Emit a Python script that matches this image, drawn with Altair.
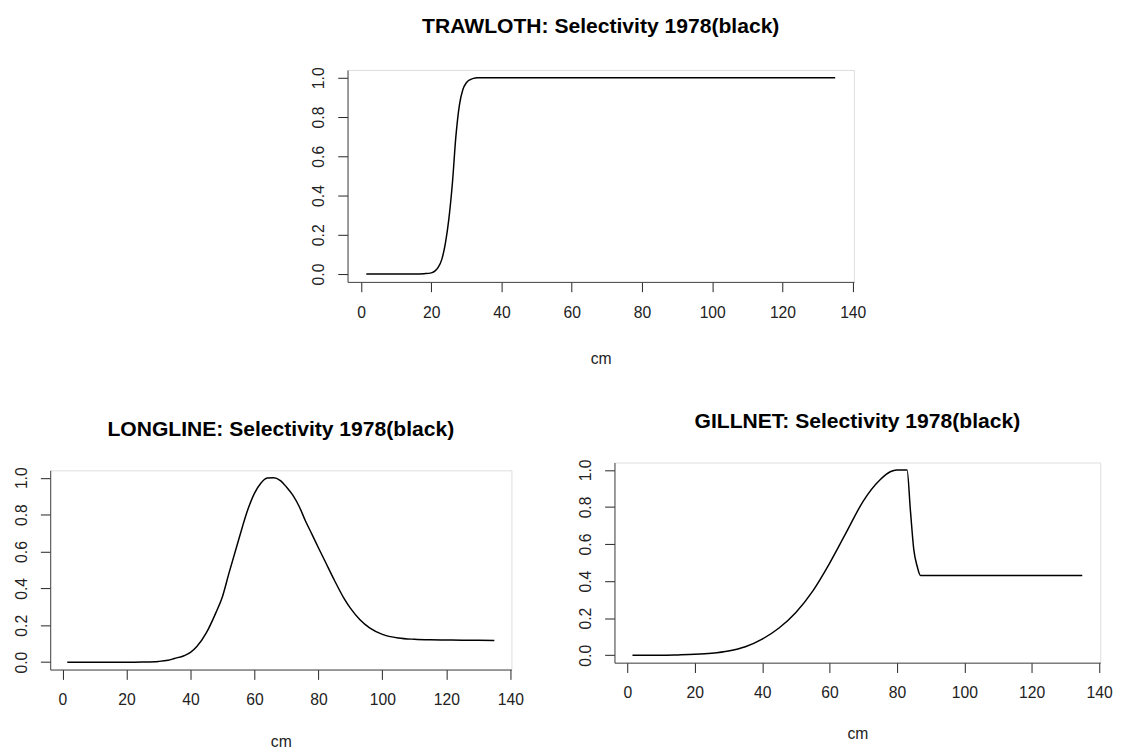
import altair as alt
import pandas as pd

# ---- data ----
trawl_cm = [1.5, 5, 10, 15, 18, 20, 21, 22, 23, 24, 25, 26, 27, 28, 29, 30, 31, 32, 33, 35, 40, 60, 80, 100, 120, 135]
trawl_sel = [0, 0, 0, 0, 0.002, 0.006, 0.015, 0.035, 0.075, 0.155, 0.28, 0.46, 0.70, 0.86, 0.94, 0.975, 0.99, 0.997, 1.0, 1.0, 1.0, 1.0, 1.0, 1.0, 1.0, 1.0]

long_cm = [1.5, 10, 20, 25, 30, 33, 35, 38, 40, 42, 45, 48, 50, 52, 55, 58, 60, 62, 64, 66, 68, 70, 72, 74, 76, 78, 80, 82, 85, 88, 90, 93, 96, 100, 105, 110, 115, 120, 125, 130, 135]
long_sel = [0, 0, 0, 0.001, 0.004, 0.01, 0.02, 0.035, 0.053, 0.085, 0.16, 0.27, 0.355, 0.48, 0.66, 0.83, 0.915, 0.97, 0.998, 1.0, 0.986, 0.95, 0.906, 0.844, 0.764, 0.693, 0.62, 0.55, 0.444, 0.346, 0.293, 0.23, 0.186, 0.151, 0.131, 0.124, 0.121, 0.12, 0.119, 0.119, 0.118]

gill_cm = [1.5, 10, 15, 20, 25, 30, 35, 40, 45, 50, 55, 60, 65, 70, 75, 78, 80, 83, 84, 85, 86, 87, 90, 100, 110, 120, 135]
gill_sel = [0, 0, 0.002, 0.005, 0.011, 0.023, 0.046, 0.087, 0.147, 0.231, 0.346, 0.496, 0.664, 0.832, 0.947, 0.99, 1.0, 1.0, 0.78, 0.57, 0.48, 0.43, 0.43, 0.43, 0.43, 0.43, 0.43]

x_ticks = [0, 20, 40, 60, 80, 100, 120, 140]
y_ticks = [0.0, 0.2, 0.4, 0.6, 0.8, 1.0]
titles = ["TRAWLOTH: Selectivity 1978(black)",
          "LONGLINE: Selectivity 1978(black)",
          "GILLNET: Selectivity 1978(black)"]
x_label = "cm"

FONT = "Liberation Sans"
INK = "#222222"


def panel(cm, sel, title, w, h, title_offset, xtitle_pad, baseline="alphabetic"):
    df = pd.DataFrame({"cm": cm, "sel": sel})
    return alt.Chart(df).mark_line(color="black", strokeWidth=1.5, interpolate="monotone").encode(
        x=alt.X("cm:Q",
                scale=alt.Scale(domain=[-3.84, 140.34], nice=False, zero=False),
                axis=alt.Axis(values=x_ticks, title=x_label, format="d", grid=False,
                              tickSize=10, tickColor=INK, domainColor="#444444",
                              labelFont=FONT, labelFontSize=16, labelColor=INK,
                              labelPadding=13, labelFlush=False,
                              titleFont=FONT, titleFontSize=16, titleFontWeight="normal",
                              titleColor=INK, titlePadding=xtitle_pad)),
        y=alt.Y("sel:Q",
                scale=alt.Scale(domain=[-0.04, 1.04], nice=False, zero=False),
                axis=alt.Axis(values=y_ticks, title=None, format=".1f", grid=False,
                              tickSize=10, tickColor=INK, domainColor="#444444",
                              labelFont=FONT, labelFontSize=16, labelColor=INK,
                              labelAngle=270, labelAlign="center", labelBaseline="bottom",
                              labelPadding=11, labelFlush=False)),
    ).properties(
        width=w, height=h,
        title=alt.Title(title, font=FONT, fontSize=21.5, fontWeight="bold", color="black",
                        baseline=baseline, offset=title_offset, frame="group",
                        anchor="middle"),
    )


def spacer(w, h):
    return alt.Chart(pd.DataFrame({"v": [0]})).mark_point(opacity=0, size=0).encode(
        x=alt.X("v:Q", axis=None), y=alt.Y("v:Q", axis=None)
    ).properties(width=w, height=h, view=alt.ViewBackground(stroke="transparent"))


top = panel(trawl_cm, trawl_sel, titles[0], 516, 216, 13, 31)
left = panel(long_cm, long_sel, titles[1], 470, 203, 5, 26, baseline="bottom")
right = panel(gill_cm, gill_sel, titles[2], 495, 204, 5, 25, baseline="bottom")

row1 = alt.hconcat(spacer(264, 1), top, spacing=0)
left_col = alt.vconcat(spacer(1, 1), left, spacing=29)
right_col = alt.vconcat(spacer(1, 1), right, spacing=21)
row2 = alt.hconcat(left_col, right_col, spacing=54)

chart = alt.vconcat(row1, row2, spacing=20).properties(
    padding={"left": 5, "top": 0, "right": 0, "bottom": 0}
).configure_view(stroke="#444444", strokeWidth=1).configure(background="white")

chart.save("out.html", embed_options={"renderer": "svg", "actions": False})
